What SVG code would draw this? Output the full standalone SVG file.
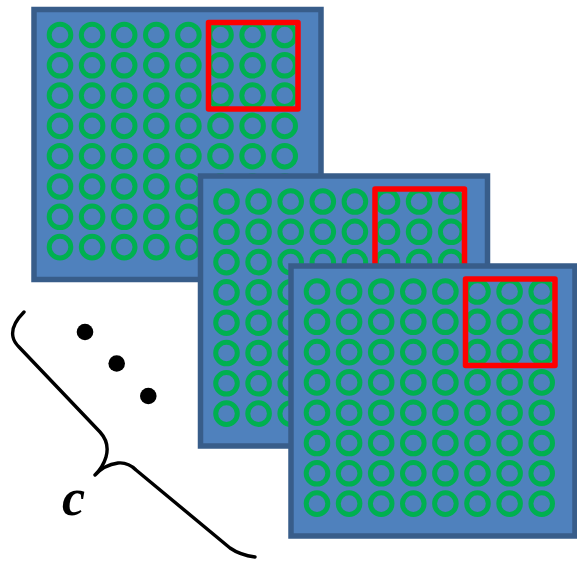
<svg xmlns="http://www.w3.org/2000/svg" xmlns:xlink="http://www.w3.org/1999/xlink" width="577" height="569" viewBox="0 0 577 569">
<style>
.panel{fill:#4F81BD;stroke:#385D8A;stroke-width:5.5}
.ring{fill:none;stroke:#00B050;stroke-width:5}
.sel{fill:none;stroke:#FF0000;stroke-width:5.5;stroke-linejoin:round}
.brace{fill:none;stroke:#000;stroke-width:3.4;stroke-linecap:round;stroke-linejoin:round}
.dot{fill:#000}
.lbl{font-family:"Liberation Serif","DejaVu Serif",serif;font-style:italic;font-weight:bold;font-size:52px;fill:#000}
</style>
<defs>
<circle id="c" r="10.8" class="ring"/>
<g id="row">
<use xlink:href="#c" x="26" y="0"/>
<use xlink:href="#c" x="58.1" y="0"/>
<use xlink:href="#c" x="90.2" y="0"/>
<use xlink:href="#c" x="122.3" y="0"/>
<use xlink:href="#c" x="154.4" y="0"/>
<use xlink:href="#c" x="186.5" y="0"/>
<use xlink:href="#c" x="218.6" y="0"/>
<use xlink:href="#c" x="250.7" y="0"/>
</g>
<g id="grid">
<use xlink:href="#row" y="25.5"/>
<use xlink:href="#row" y="55.8"/>
<use xlink:href="#row" y="86.1"/>
<use xlink:href="#row" y="116.4"/>
<use xlink:href="#row" y="146.7"/>
<use xlink:href="#row" y="177"/>
<use xlink:href="#row" y="207.3"/>
<use xlink:href="#row" y="237.6"/>
</g>
</defs>
<g id="panel1" transform="translate(34,9.5)">
<rect class="panel" x="0" y="0" width="287" height="270"/>
<use xlink:href="#grid"/>
<rect class="sel" x="174.5" y="13" width="89.5" height="86.5"/>
</g>
<g id="panel2" transform="translate(200.5,176)">
<rect class="panel" x="0" y="0" width="287" height="270"/>
<use xlink:href="#grid"/>
<rect class="sel" x="174.5" y="13" width="89.5" height="86.5"/>
</g>
<g id="panel3" transform="translate(291,266)">
<rect class="panel" x="0" y="0" width="284" height="270"/>
<use xlink:href="#grid"/>
<rect class="sel" x="174.5" y="13" width="89.5" height="86.5"/>
</g>
<g id="ellipsis">
<circle class="dot" cx="85" cy="332" r="8.3"/>
<circle class="dot" cx="116.7" cy="363.5" r="8.3"/>
<circle class="dot" cx="148.3" cy="396" r="8.3"/>
</g>
<g id="connectors">
<path class="brace" d="M24,312 C16,320 11,328 13,337 Q14,342 19,347 L100,432 Q110,443 106,457 Q103,467 95,475 Q104,465 118,463 Q128,462 136,470 L230,548 Q240,555 255,557"/>
</g>
<text class="lbl" x="62" y="515">c</text>
</svg>
